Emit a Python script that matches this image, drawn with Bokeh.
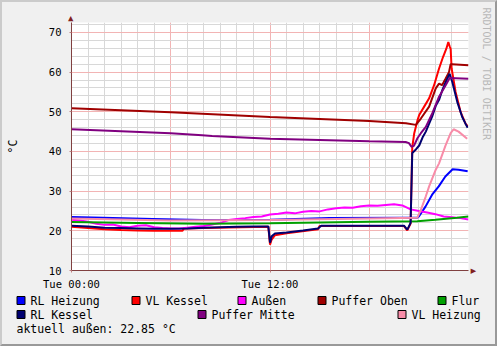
from bokeh.plotting import figure
from bokeh.layouts import column
from bokeh.models import Range1d, FixedTicker, SingleIntervalTicker, Title, ColumnDataSource
from bokeh.core.properties import value
from bokeh.embed import file_html
from bokeh.resources import INLINE

# ---------------- data (hours since Tue 00:00, degrees C) ----------------
t_rl_heizung = [0, 1.9, 4.9, 7.9, 12, 15.6, 20.1, 20.9, 21.0, 21.4, 21.8, 22.2, 22.6, 23.04, 23.4, 23.95]
v_rl_heizung = [23.5, 23.3, 23.0, 22.7, 22.8, 23.2, 23.3, 23.3, 23.6, 26.1, 29.1, 31.2, 33.7, 35.5, 35.4, 35.0]

t_vl_kessel = [0, 1, 2, 3, 4, 5, 6, 6.7, 6.8, 8, 11.9, 12.0, 12.1, 12.3, 13, 14.9, 15.0, 20.1, 20.3, 20.5,
               20.6, 20.72, 20.92, 21.02, 21.32, 21.62, 21.92, 22.22, 22.46, 22.66, 22.78, 22.86, 22.92,
               22.98, 23.22, 23.52, 23.82, 23.95]
v_vl_kessel = [21.0, 20.7, 20.4, 20.2, 20.1, 20.0, 20.0, 20.0, 20.6, 20.7, 21.0, 16.5, 17.8, 18.9, 19.4, 20.4,
               21.2, 21.2, 20.1, 21.8, 41.0, 44.6, 47.9, 49.2, 51.3, 53.4, 56.7, 60.9, 63.8, 65.9, 67.6,
               66.5, 65.9, 60.9, 55.0, 50.0, 47.0, 46.4]

t_aussen = [0, 0.5, 1.0, 1.5, 2.0, 2.5, 3.0, 3.5, 4.0, 4.5, 5.0, 5.5, 6.0, 6.5, 7.0, 7.5, 8.0, 8.5, 9.0,
            9.5, 10.0, 10.5, 11.0, 11.5, 12.0, 12.5, 13.0, 13.5, 14.0, 14.5, 15.0, 15.5, 16.0, 16.5, 17.0,
            17.5, 18.0, 18.5, 19.0, 19.5, 20.0, 20.5, 21.0, 21.5, 22.0, 22.5, 23.0, 23.5, 24.0]
v_aussen = [22.8, 22.6, 22.3, 21.8, 21.5, 21.6, 21.1, 20.9, 21.3, 21.4, 20.9, 20.7, 20.6, 20.6, 20.8, 21.0,
            21.2, 21.6, 22.0, 22.7, 23.0, 23.2, 23.5, 23.6, 24.1, 24.3, 24.6, 24.4, 24.8, 25.0, 24.9, 25.4,
            25.7, 25.9, 25.8, 26.2, 26.4, 26.3, 26.5, 26.7, 26.4, 25.4, 25.0, 24.6, 24.2, 23.6, 23.4, 23.2, 22.85]

t_puffer_oben = [0, 6, 12, 18, 20.22, 20.82, 21.12, 21.62, 22.02, 22.22, 22.4, 22.62, 22.82, 22.92, 23.0, 24]
v_puffer_oben = [50.9, 49.9, 48.7, 47.7, 47.1, 46.7, 48.3, 51.3, 55.9, 57.1, 56.7, 58.4, 60.0, 62.0, 62.0, 61.7]

t_flur = [0, 4, 8, 12, 13, 18, 20.9, 22, 23.3, 24]
v_flur = [22.2, 22.0, 21.8, 21.9, 22.0, 22.3, 22.4, 22.8, 23.3, 23.6]

t_rl_kessel = [0, 1, 2, 3, 4, 5, 6, 7, 8, 9, 10, 11, 11.9, 12.0, 12.1, 12.3, 13, 14, 14.9, 15.1, 20.1,
               20.3, 20.5, 20.6, 20.82, 21.02, 21.22, 21.42, 21.62, 21.82, 22.02, 22.22, 22.42, 22.72,
               22.86, 23.02, 23.32, 23.62, 23.82, 23.95]
v_rl_kessel = [21.3, 21.1, 20.8, 20.7, 20.6, 20.5, 20.5, 20.6, 20.8, 20.9, 21.0, 21.1, 21.1, 17.0, 18.6,
               19.3, 19.6, 20.1, 20.6, 21.3, 21.3, 20.3, 22.0, 39.6, 40.5, 41.5, 43.5, 45.0, 47.0, 49.0,
               51.5, 53.0, 55.5, 58.4, 59.6, 57.5, 52.5, 48.7, 47.0, 46.0]

t_puffer_mitte = [0, 6, 7.9, 8.5, 12, 18, 20.2, 20.4, 20.55, 20.7, 20.92, 21.12, 21.42, 21.82, 22.22, 22.62, 22.86, 24]
v_puffer_mitte = [45.6, 44.6, 44.1, 43.9, 43.2, 42.6, 42.4, 42.1, 41.2, 41.4, 43.4, 44.6, 46.2, 49.7, 53.8, 56.7, 58.5, 58.3]

t_vl_heizung = [0, 6, 12, 18, 20.9, 21.12, 21.42, 21.62, 22.02, 22.22, 22.62, 22.92, 23.1, 23.4, 23.92]
v_vl_heizung = [23.1, 22.6, 22.7, 23.1, 23.3, 25.3, 28.7, 31.2, 35.4, 37.0, 41.6, 44.6, 45.6, 45.0, 43.2]

series_names = ["RL Heizung", "VL Kessel", "Außen", "Puffer Oben", "Flur",
                "RL Kessel", "Puffer Mitte", "VL Heizung"]
series_colors = ["#0000FF", "#FF0000", "#FF00FF", "#A00000", "#00A000",
                 "#000070", "#800080", "#F88CA8"]
series_t = [t_rl_heizung, t_vl_kessel, t_aussen, t_puffer_oben, t_flur,
            t_rl_kessel, t_puffer_mitte, t_vl_heizung]
series_v = [v_rl_heizung, v_vl_kessel, v_aussen, v_puffer_oben, v_flur,
            v_rl_kessel, v_puffer_mitte, v_vl_heizung]

x_tick_values = [0, 12]
x_tick_labels = ["Tue 00:00", "Tue 12:00"]
current_text = "aktuell außen: 22.85 °C"
y_label = "°C"
watermark = "RRDTOOL / TOBI OETIKER"

# ---------------- layout ----------------
BW = 2                                  # 3D border width (CSS)
W = 497 - 2 * BW                        # inner width
MAIN_H = 290                            # main chart height (inner)
LEG_H = 346 - 2 * BW - MAIN_H           # legend strip height
FL, FR, FT, FB = 68 - BW, 468 - BW, 22 - BW, 271 - BW
MONO = "DejaVu Sans Mono"
AXIS_COL = "#804040"
ARROW_COL = "#802020"
BG = "#F0F0F0"

# legend layout in pixels of the legend strip (left edge of swatch, row centre)
legend_swatch_x = [14, 129, 235, 315, 435, 14, 195, 395]
legend_row_y = [8, 8, 8, 8, 8, 22, 22, 22]
current_pos = (14, 36)

p = figure(width=W, height=MAIN_H, x_range=Range1d(0, 24), y_range=Range1d(10, 72.5),
           output_backend="svg", toolbar_location=None,
           min_border_left=FL, min_border_right=W - FR,
           min_border_top=FT, min_border_bottom=MAIN_H - FB)
p.border_fill_color = BG
p.background_fill_color = "#FFFFFF"
p.outline_line_color = None

# grids
p.xgrid.ticker = FixedTicker(ticks=[0, 6, 12, 18], minor_ticks=list(range(0, 24)))
p.ygrid.ticker = SingleIntervalTicker(interval=10, num_minor_ticks=5)
for g in (p.xgrid[0], p.ygrid[0]):
    g.grid_line_color = "#F2B4B4"
    g.grid_line_width = 1
    g.minor_grid_line_color = "#D8D8D8"
    g.minor_grid_line_width = 1

# axes
p.xaxis.ticker = FixedTicker(ticks=x_tick_values)
p.xaxis.major_label_overrides = dict(zip(x_tick_values, x_tick_labels))
p.yaxis.ticker = SingleIntervalTicker(interval=10, num_minor_ticks=5)
for ax in (p.xaxis[0], p.yaxis[0]):
    ax.axis_line_color = AXIS_COL
    ax.major_tick_line_color = "#C08080"
    ax.major_tick_out = 2
    ax.major_tick_in = 0
    ax.minor_tick_line_color = None
    ax.major_label_text_font = MONO
    ax.major_label_text_font_size = "10.5px"
    ax.major_label_text_color = "#000000"
p.xaxis.major_label_standoff = 5
p.yaxis.major_label_standoff = 6
p.yaxis.axis_label = y_label
p.yaxis.axis_label_text_font = MONO
p.yaxis.axis_label_text_font_size = "11.5px"
p.yaxis.axis_label_text_font_style = "normal"
p.yaxis.axis_label_text_color = "#000000"
p.yaxis.axis_label_standoff = 26

# data lines
for t, v, c in zip(series_t, series_v, series_colors):
    p.line(t, v, line_width=2, line_color=c)

# axis arrow heads and watermark
p.add_layout(Title(text="▲", align="left", offset=-3.5, standoff=0, text_font=MONO,
                   text_font_size="9px", text_color=ARROW_COL, text_font_style="normal"), "above")
p.add_layout(Title(text="▲", align="right", offset=-3.5, standoff=0, text_font=MONO,
                   text_font_size="9px", text_color=ARROW_COL, text_font_style="normal"), "right")
p.add_layout(Title(text=watermark, align="left", offset=-15, standoff=0, text_font=MONO,
                   text_font_size="10px", text_color="#B8B8B8", text_font_style="normal"), "right")

# ---------------- legend strip ----------------
leg = figure(width=W, height=LEG_H, x_range=Range1d(0, W), y_range=Range1d(LEG_H, 0),
             output_backend="svg", toolbar_location=None,
             min_border_left=0, min_border_right=0, min_border_top=0, min_border_bottom=0)
leg.axis.visible = False
leg.grid.visible = False
leg.outline_line_color = None
leg.background_fill_color = BG
leg.border_fill_color = BG

for fig in (p, leg):
    try:
        fig.frame_align = False
    except AttributeError:
        pass

sw = ColumnDataSource(dict(x=[sx + 4.5 for sx in legend_swatch_x], y=legend_row_y,
                           tx=[sx + 14 for sx in legend_swatch_x],
                           name=series_names, color=series_colors))
leg.rect(x="x", y="y", width=8, height=8, source=sw, fill_color="color",
         line_color="#000000", line_width=1)
leg.text(x="tx", y="y", text="name", source=sw, text_font=value(MONO),
         text_font_size=value("11.5px"), text_baseline="middle", text_align="left",
         text_color="#000000")
leg.text(x=[current_pos[0]], y=[current_pos[1]], text=[current_text], text_font=value(MONO),
         text_font_size=value("11.5px"), text_baseline="middle", text_align="left",
         text_color="#000000")

layout = column(p, leg, spacing=0,
                styles={"border-style": "solid", "border-width": f"{BW}px",
                        "border-color": "#CBCBCB #999999 #999999 #CBCBCB",
                        "background-color": BG})

open("out.html", "w").write(file_html(layout, INLINE))
